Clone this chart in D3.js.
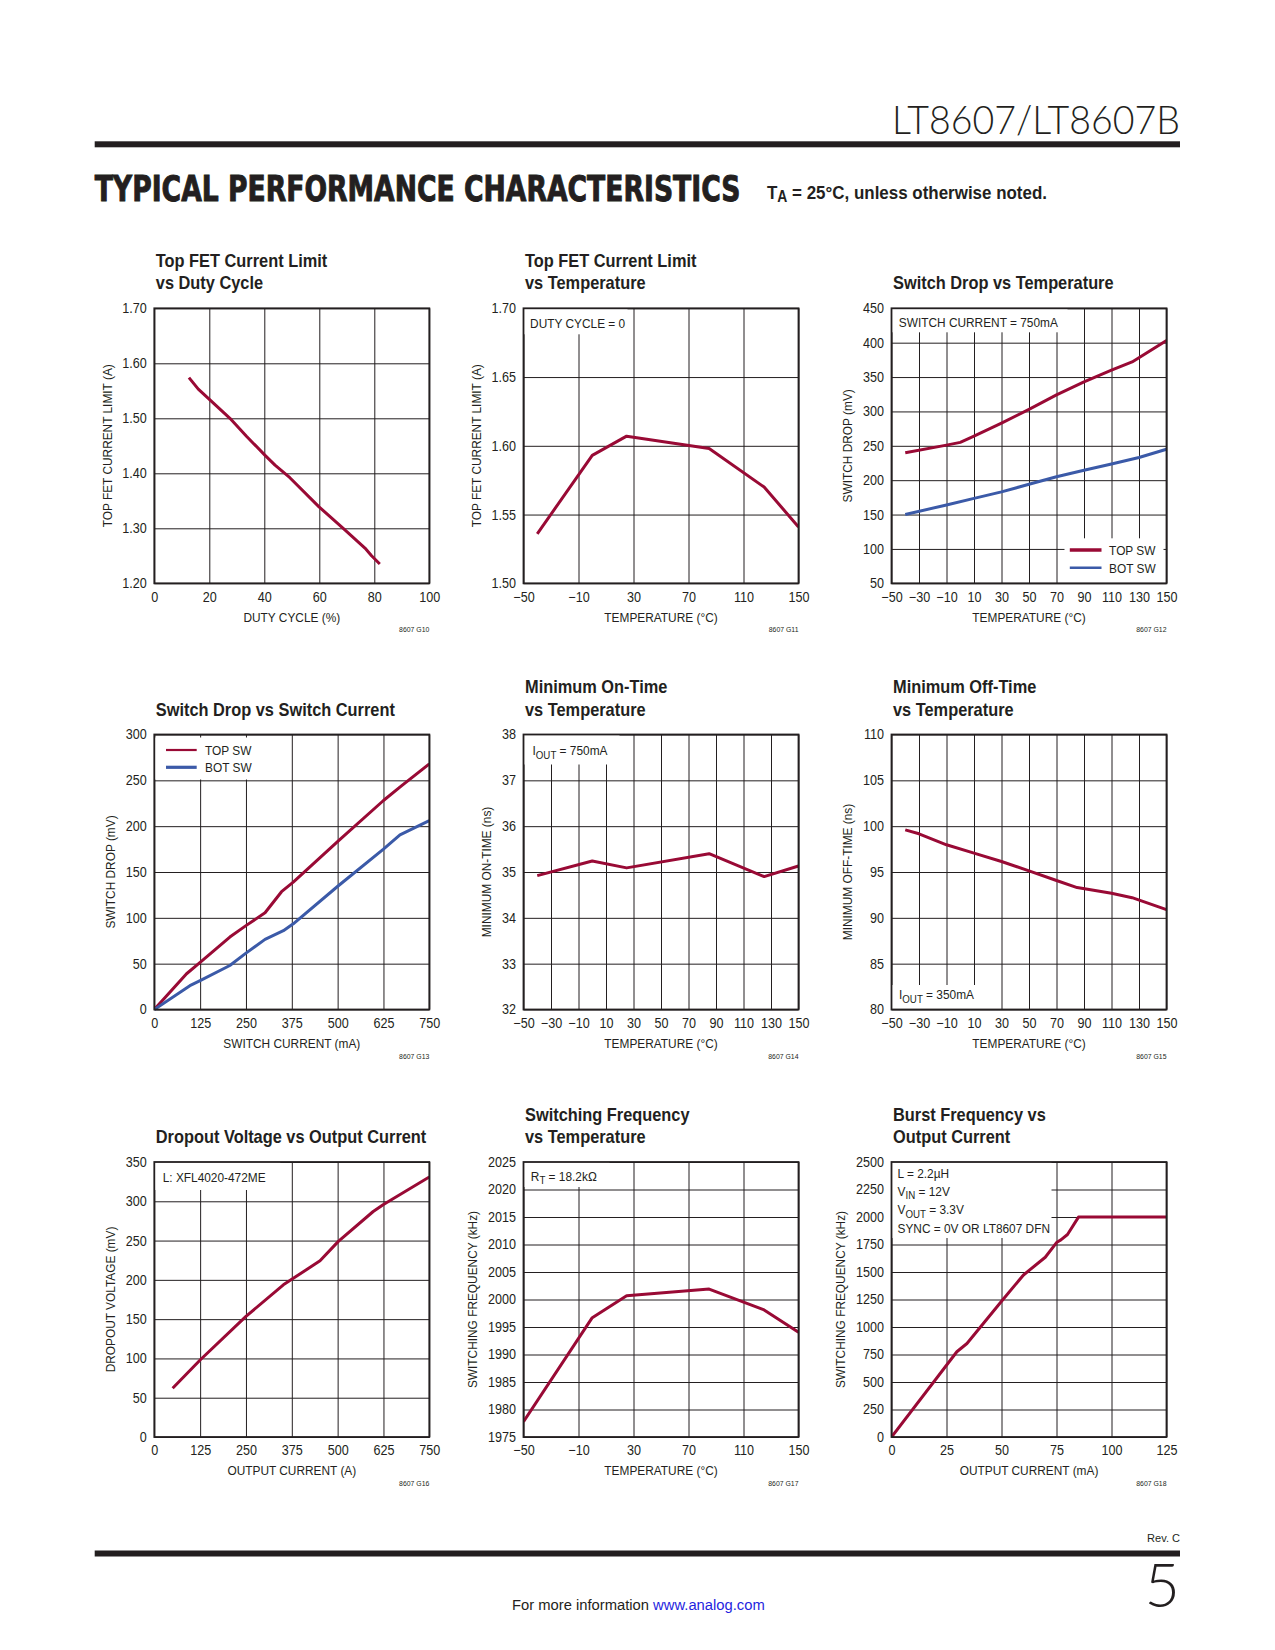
<!DOCTYPE html>
<html><head><meta charset="utf-8">
<script src="https://cdn.jsdelivr.net/npm/d3@7"></script>
<style>body{margin:0;background:#fff}svg{display:block}</style>
</head><body>
<svg id="page" width="1275" height="1650"></svg>
<script>
// ---------------- DATA ----------------
// G10 Top FET current limit vs duty cycle
const dutyCycle = [12.6, 16, 27.5, 33.6, 40.2, 43.9, 49.3, 59.9, 68.7, 76.6, 79, 82];
const topLimitVsDuty = [1.574, 1.553, 1.500, 1.467, 1.433, 1.415, 1.392, 1.339, 1.300, 1.264, 1.250, 1.235];
// G11 Top FET current limit vs temperature
const tempG11 = [-40, 0, 25, 85, 125, 150];
const topLimitVsTemp = [1.536, 1.593, 1.607, 1.598, 1.570, 1.541];
// G12 Switch drop vs temperature
const tempG12Top = [-40, -10, 0, 10, 30, 50, 70, 90, 110, 125, 150];
const dropTopVsTemp = [240, 251, 255, 264, 283, 303, 324, 343, 360, 372, 403];
const tempG12Bot = [-40, -10, 10, 30, 50, 70, 90, 110, 130, 150];
const dropBotVsTemp = [150, 164, 173.5, 183, 194, 205, 214.5, 223.5, 233, 245];
// G13 Switch drop vs switch current
const swCurrentTop = [0, 88, 125, 206, 250, 302, 347, 379, 502, 625, 674, 750];
const dropTopVsCurrent = [0, 39, 51.5, 79, 91.5, 105.5, 128.5, 139, 184, 228, 244, 268];
const swCurrentBot = [0, 97, 125, 206, 250, 302, 352, 379, 502, 625, 670, 750];
const dropBotVsCurrent = [0, 26, 31.5, 48, 61.5, 76.5, 86, 93.5, 135, 175, 190.5, 206];
// G14 Minimum on-time vs temperature
const tempG14 = [-40, 0, 25, 85, 125, 150];
const minOnTime = [34.92, 35.24, 35.09, 35.40, 34.90, 35.13];
// G15 Minimum off-time vs temperature
const tempG15 = [-40, -30, -10, 10, 30, 50, 70, 85, 110, 125, 150];
const minOffTime = [99.6, 99.17, 97.97, 97.06, 96.15, 95.13, 94.07, 93.3, 92.68, 92.2, 90.9];
// G16 Dropout voltage vs output current
const outCurrentG16 = [50, 125, 250, 352, 376, 452, 502, 597, 625, 750];
const dropoutVoltage = [62, 98, 153.5, 193.7, 201, 224.3, 249, 287, 296, 331];
// G17 Switching frequency vs temperature
const tempG17 = [-50, 0, 25, 85, 125, 150];
const switchingFreq = [1977.8, 1996.7, 2000.7, 2001.9, 1998.1, 1994.05];
// G18 Burst frequency vs output current
const outCurrentG18 = [0, 29.7, 34.3, 50.2, 60, 69.9, 75.2, 77, 80, 85, 125];
const burstFreq = [0, 775, 850, 1239, 1473, 1634, 1771, 1792, 1841, 1999, 2000];

// tick values
const ticksPct = [0, 20, 40, 60, 80, 100];
const ticksLimitDuty = [1.2, 1.3, 1.4, 1.5, 1.6, 1.7];
const ticksTemp40 = [-50, -10, 30, 70, 110, 150];
const ticksLimitTemp = [1.5, 1.55, 1.6, 1.65, 1.7];
const ticksTemp20 = [-50, -30, -10, 10, 30, 50, 70, 90, 110, 130, 150];
const ticksDrop450 = [50, 100, 150, 200, 250, 300, 350, 400, 450];
const ticksCurrent750 = [0, 125, 250, 375, 500, 625, 750];
const ticksDrop300 = [0, 50, 100, 150, 200, 250, 300];
const ticksOnTime = [32, 33, 34, 35, 36, 37, 38];
const ticksOffTime = [80, 85, 90, 95, 100, 105, 110];
const ticksDrop350 = [0, 50, 100, 150, 200, 250, 300, 350];
const ticksFreq = [1975, 1980, 1985, 1990, 1995, 2000, 2005, 2010, 2015, 2020, 2025];
const ticksBurstX = [0, 25, 50, 75, 100, 125];
const ticksBurstY = [0, 250, 500, 750, 1000, 1250, 1500, 1750, 2000, 2250, 2500];

// ---------------- DRAWING ----------------
const RED = '#990a35', BLUE = '#3b5aa8', INK = '#231f20';
const FONT = "'Liberation Sans', Arial, Helvetica, sans-serif";
const K = 0.88; // horizontal condensation
const svg = d3.select('#page');
svg.append('rect').attr('width', 1275).attr('height', 1650).attr('fill', '#fff');

function addText(parent, x, y, parts, o = {}) {
  const k = o.k ?? K;
  const t = parent.append('text')
    .attr('font-family', o.family || FONT).attr('font-size', o.size || 13.5)
    .attr('font-weight', o.weight || 400).attr('text-anchor', o.anchor || 'start')
    .attr('fill', o.fill || INK);
  if (o.stroke) t.attr('stroke', o.fill || INK).attr('stroke-width', o.stroke);
  if (typeof parts === 'string') t.text(parts);
  else {
    let shifted = false;
    parts.forEach(p => {
      const sp = t.append('tspan').text(p.t);
      if (p.fill) sp.attr('fill', p.fill);
      if (p.sub) { sp.attr('font-size', '0.82em').attr('dy', 3.5); shifted = true; }
      else if (shifted) { sp.attr('dy', -3.5); shifted = false; }
    });
  }
  let kk = k;
  if (o.width) { const bw = t.node().getBBox().width; kk = o.width / bw; }
  t.attr('transform', `translate(${x},${y})${o.rotate ? ` rotate(${o.rotate})` : ''} scale(${kk},1)`);
  return t;
}

// page header
addText(svg, 1180, 133.5, 'LT8607/LT8607B', {family: "Lato, 'Open Sans', sans-serif", weight: 300, size: 39, anchor: 'end', width: 288});
svg.append('rect').attr('x', 94.7).attr('y', 141.3).attr('width', 1085.3).attr('height', 6).attr('fill', INK);
addText(svg, 94.7, 201, 'TYPICAL PERFORMANCE CHARACTERISTICS', {family: "'DejaVu Sans', sans-serif", weight: 700, size: 36, width: 646, stroke: 1});
addText(svg, 767, 198.5, [{t: 'T'}, {t: 'A', sub: true}, {t: ' = 25°C, unless otherwise noted.'}], {weight: 700, size: 19, width: 280});

// page footer
addText(svg, 1180, 1542, 'Rev. C', {size: 11, anchor: 'end', width: 33});
svg.append('rect').attr('x', 94.7).attr('y', 1550.5).attr('width', 1085.3).attr('height', 6).attr('fill', INK);
addText(svg, 1180, 1607, '5', {family: "Lato, 'Open Sans', sans-serif", weight: 300, size: 61, anchor: 'end', k: 1});
addText(svg, 512, 1609.5, [{t: 'For more information '}, {t: 'www.analog.com', fill: '#1f1fe0'}], {size: 14.5, width: 253});

const PW = 275, PH = 275;
const colX = [154.3, 523.5, 891.5];
const rowY = [308.3, 734.5, 1162];
const f2 = d3.format('.2f'), fi = d3.format('d');

const charts = [
  {code: '8607 G10', col: 0, row: 0, title: ['Top FET Current Limit', 'vs Duty Cycle'],
   xDom: [0, 100], xTicks: ticksPct, yDom: [1.2, 1.7], yTicks: ticksLimitDuty, yFmt: f2,
   xLabel: 'DUTY CYCLE (%)', yLabel: 'TOP FET CURRENT LIMIT (A)',
   series: [{x: dutyCycle, y: topLimitVsDuty, color: RED}]},
  {code: '8607 G11', col: 1, row: 0, title: ['Top FET Current Limit', 'vs Temperature'],
   xDom: [-50, 150], xTicks: ticksTemp40, yDom: [1.5, 1.7], yTicks: ticksLimitTemp, yFmt: f2,
   xLabel: 'TEMPERATURE (°C)', yLabel: 'TOP FET CURRENT LIMIT (A)',
   series: [{x: tempG11, y: topLimitVsTemp, color: RED}],
   boxes: [[0, 0, 104, 26]], notes: [[6.6, 19.8, 'DUTY CYCLE = 0']]},
  {code: '8607 G12', col: 2, row: 0, title: ['Switch Drop vs Temperature'],
   xDom: [-50, 150], xTicks: ticksTemp20, yDom: [50, 450], yTicks: ticksDrop450, yFmt: fi,
   xLabel: 'TEMPERATURE (°C)', yLabel: 'SWITCH DROP (mV)',
   series: [{x: tempG12Top, y: dropTopVsTemp, color: RED}, {x: tempG12Bot, y: dropBotVsTemp, color: BLUE}],
   boxes: [[0, 0, 176, 24], [173, 230, 99, 45]], notes: [[7.3, 18.8, 'SWITCH CURRENT = 750mA']],
   legend: {x1: 178.3, x2: 210, tx: 217.6, ys: [241.7, 259.4], labels: ['TOP SW', 'BOT SW'], colors: [RED, BLUE], widths: [3.5, 2.5]}},
  {code: '8607 G13', col: 0, row: 1, title: ['Switch Drop vs Switch Current'],
   xDom: [0, 750], xTicks: ticksCurrent750, yDom: [0, 300], yTicks: ticksDrop300, yFmt: fi,
   xLabel: 'SWITCH CURRENT (mA)', yLabel: 'SWITCH DROP (mV)',
   series: [{x: swCurrentTop, y: dropTopVsCurrent, color: RED}, {x: swCurrentBot, y: dropBotVsCurrent, color: BLUE}],
   boxes: [[0, 3, 128, 42]],
   legend: {x1: 11.7, x2: 42.4, tx: 50.7, ys: [15.5, 32.8], labels: ['TOP SW', 'BOT SW'], colors: [RED, BLUE], widths: [2.2, 3.2]}},
  {code: '8607 G14', col: 1, row: 1, title: ['Minimum On-Time', 'vs Temperature'],
   xDom: [-50, 150], xTicks: ticksTemp20, yDom: [32, 38], yTicks: ticksOnTime, yFmt: fi,
   xLabel: 'TEMPERATURE (°C)', yLabel: 'MINIMUM ON-TIME (ns)',
   series: [{x: tempG14, y: minOnTime, color: RED}],
   boxes: [[0, 0, 96, 30]], notes: [[9, 20.5, [{t: 'I'}, {t: 'OUT', sub: true}, {t: ' = 750mA'}]]]},
  {code: '8607 G15', col: 2, row: 1, title: ['Minimum Off-Time', 'vs Temperature'],
   xDom: [-50, 150], xTicks: ticksTemp20, yDom: [80, 110], yTicks: ticksOffTime, yFmt: fi,
   xLabel: 'TEMPERATURE (°C)', yLabel: 'MINIMUM OFF-TIME (ns)',
   series: [{x: tempG15, y: minOffTime, color: RED}],
   boxes: [[0, 250.5, 94, 24.5]], notes: [[7.5, 264.5, [{t: 'I'}, {t: 'OUT', sub: true}, {t: ' = 350mA'}]]]},
  {code: '8607 G16', col: 0, row: 2, title: ['Dropout Voltage vs Output Current'],
   xDom: [0, 750], xTicks: ticksCurrent750, yDom: [0, 350], yTicks: ticksDrop350, yFmt: fi,
   xLabel: 'OUTPUT CURRENT (A)', yLabel: 'DROPOUT VOLTAGE (mV)',
   series: [{x: outCurrentG16, y: dropoutVoltage, color: RED}],
   boxes: [[0, 0, 126, 28]], notes: [[8.4, 20.2, 'L: XFL4020-472ME']]},
  {code: '8607 G17', col: 1, row: 2, title: ['Switching Frequency', 'vs Temperature'],
   xDom: [-50, 150], xTicks: ticksTemp40, yDom: [1975, 2025], yTicks: ticksFreq, yFmt: fi,
   xLabel: 'TEMPERATURE (°C)', yLabel: 'SWITCHING FREQUENCY (kHz)',
   series: [{x: tempG17, y: switchingFreq, color: RED}],
   boxes: [[0, 0, 86, 25]], notes: [[7.3, 18.6, [{t: 'R'}, {t: 'T', sub: true}, {t: ' = 18.2kΩ'}]]]},
  {code: '8607 G18', col: 2, row: 2, title: ['Burst Frequency vs', 'Output Current'],
   xDom: [0, 125], xTicks: ticksBurstX, yDom: [0, 2500], yTicks: ticksBurstY, yFmt: fi,
   xLabel: 'OUTPUT CURRENT (mA)', yLabel: 'SWITCHING FREQUENCY (kHz)',
   series: [{x: outCurrentG18, y: burstFreq, color: RED}],
   boxes: [[0, 0, 160, 76]],
   notes: [[6, 15.8, 'L = 2.2µH'], [6, 33.8, [{t: 'V'}, {t: 'IN', sub: true}, {t: ' = 12V'}]],
           [6, 52, [{t: 'V'}, {t: 'OUT', sub: true}, {t: ' = 3.3V'}]], [6, 71, 'SYNC = 0V OR LT8607 DFN']]}
];

charts.forEach(c => {
  const g = svg.append('g').attr('transform', `translate(${colX[c.col]},${rowY[c.row]})`);
  const x = d3.scaleLinear().domain(c.xDom).range([0, PW]);
  const y = d3.scaleLinear().domain(c.yDom).range([PH, 0]);

  // title
  const tl = c.title.length;
  c.title.forEach((s, i) => addText(g, 1.5, -19 - (tl - 1 - i) * 22.3, s, {size: 18.5, weight: 700, k: 0.885}));

  // x axis with grid
  const gx = g.append('g').attr('transform', `translate(0,${PH})`)
    .call(d3.axisBottom(x).tickValues(c.xTicks).tickSize(-PH).tickPadding(8.5).tickFormat(fi));
  gx.select('.domain').remove();
  gx.selectAll('line').attr('stroke', INK).attr('stroke-width', 1);
  gx.selectAll('text').attr('font-family', FONT).attr('font-size', 14).attr('fill', INK).attr('transform', 'scale(0.9,1)');

  // y axis with grid
  const gy = g.append('g')
    .call(d3.axisLeft(y).tickValues(c.yTicks).tickSize(-PW).tickPadding(0).tickFormat(c.yFmt));
  gy.select('.domain').remove();
  gy.selectAll('line').attr('stroke', INK).attr('stroke-width', 1);
  gy.selectAll('text').attr('font-family', FONT).attr('font-size', 14).attr('fill', INK)
    .attr('x', -7.5 / 0.9).attr('transform', 'scale(0.9,1)');
  let maxW = 0;
  gy.selectAll('text').each(function () { maxW = Math.max(maxW, this.getBoundingClientRect().width); });

  // axis titles
  addText(g, PW / 2, PH + 38.4, c.xLabel, {anchor: 'middle'});
  addText(g, -(7.5 + maxW + 15.5) + 4.9, PH / 2, c.yLabel, {anchor: 'middle', rotate: -90});
  addText(g, PW, PH + 49, c.code, {size: 7.5, anchor: 'end', k: 0.92});

  // white boxes for annotations / legend
  (c.boxes || []).forEach(b => g.append('rect').attr('x', b[0]).attr('y', b[1]).attr('width', b[2]).attr('height', b[3]).attr('fill', '#fff'));
  (c.notes || []).forEach(n => addText(g, n[0], n[1], n[2], {size: 13.5}));
  if (c.legend) {
    const L = c.legend;
    L.labels.forEach((lab, i) => {
      g.append('line').attr('x1', L.x1).attr('x2', L.x2).attr('y1', L.ys[i]).attr('y2', L.ys[i])
        .attr('stroke', L.colors[i]).attr('stroke-width', L.widths[i]);
      addText(g, L.tx, L.ys[i] + 5, lab, {size: 13.5});
    });
  }

  // data lines
  const clipId = 'clip' + c.code.replace(/\s/g, '');
  g.append('clipPath').attr('id', clipId).append('rect').attr('x', 0).attr('y', -2).attr('width', PW).attr('height', PH + 4);
  const line = d3.line().x(d => x(d[0])).y(d => y(d[1]));
  c.series.forEach(s => {
    g.append('path').datum(s.x.map((v, i) => [v, s.y[i]])).attr('d', line)
      .attr('fill', 'none').attr('stroke', s.color).attr('stroke-width', 3)
      .attr('stroke-linejoin', 'round').attr('clip-path', `url(#${clipId})`);
  });

  // frame
  g.append('rect').attr('width', PW).attr('height', PH).attr('fill', 'none').attr('stroke', INK).attr('stroke-width', 1.8);
});
</script>
</body></html>
